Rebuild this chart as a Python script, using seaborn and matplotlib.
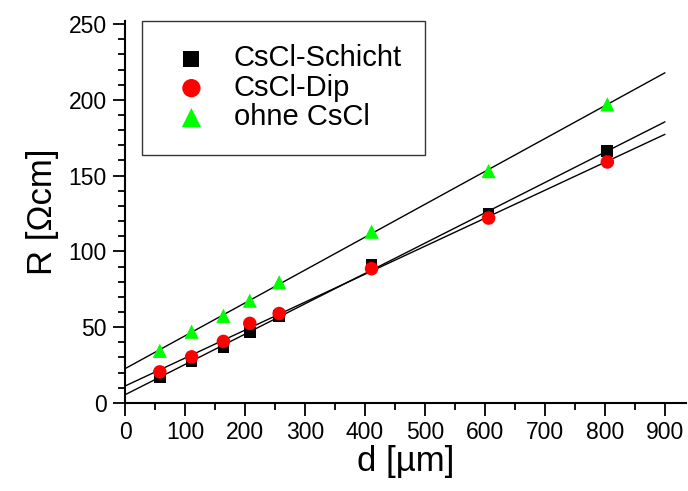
import numpy as np
import pandas as pd
import matplotlib
matplotlib.use("Agg")
import matplotlib.pyplot as plt
from matplotlib.ticker import MultipleLocator
import seaborn as sns

# Data
d_um = [58, 111, 164, 208, 257, 411, 606, 804]
schicht = [16.8, 27.3, 37.0, 46.5, 57.5, 91.3, 124.8, 166.0]
dip = [20.5, 30.4, 40.6, 52.5, 59.0, 88.6, 122.0, 159.0]
ohne = [34.4, 47.0, 57.5, 67.5, 79.6, 113.0, 153.0, 197.0]
series_names = ["CsCl-Schicht", "CsCl-Dip", "ohne CsCl"]
fit_range = [0, 900]

sns.set_style("ticks")
plt.rcParams['font.family'] = ['Liberation Sans', 'DejaVu Sans']
for key in ["text.color", "axes.labelcolor", "xtick.color", "ytick.color"]:
    plt.rcParams[key] = "black"

fig = plt.figure(figsize=(6.88, 4.91), dpi=100)
ax = fig.add_axes([0.1817, 0.1793, 0.8153, 0.7779])

colors = ["black", "#ff0000", "#00ff00"]
markers = ["s", "o", "^"]
sizes = [72, 95, 105]
series = [schicht, dip, ohne]

for name, vals, c, m, s in zip(series_names, series, colors, markers, sizes):
    df = pd.DataFrame({"d": d_um, "R": vals})
    sns.scatterplot(data=df, x="d", y="R", ax=ax, color=c, marker=m, s=s,
                    edgecolor="none", label=name, zorder=3)
    k, b = np.polyfit(d_um, vals, 1)
    xs = np.array(fit_range, dtype=float)
    sns.lineplot(x=xs, y=k * xs + b, ax=ax, color="black", lw=1.0, zorder=2)

ax.set_xlim(0, 935)
ax.set_ylim(0, 252)
ax.set_xticks(np.arange(0, 901, 100))
ax.xaxis.set_minor_locator(MultipleLocator(50))
ax.yaxis.set_major_locator(MultipleLocator(50))
ax.yaxis.set_minor_locator(MultipleLocator(10))
ax.tick_params(which="major", direction="out", length=9, width=1.3,
               labelsize=16.5, pad=4)
ax.tick_params(which="minor", direction="out", length=5, width=1.3)
for sp in ["top", "right"]:
    ax.spines[sp].set_visible(False)
for sp in ["left", "bottom"]:
    ax.spines[sp].set_linewidth(1.5)
    ax.spines[sp].set_color("black")

ax.set_xlabel("d [µm]", fontsize=25, labelpad=1)
ax.set_ylabel("R [Ωcm]", fontsize=25, labelpad=7)

leg = ax.legend(loc="upper left", bbox_to_anchor=(0.03, 1.0), fontsize=21,
                frameon=True, fancybox=False, edgecolor="black",
                handlelength=1.8, handletextpad=0.55, borderpad=0.8,
                labelspacing=0.05, borderaxespad=0.0, markerscale=1.35)
leg.get_frame().set_linewidth(1.0)

fig.savefig("out.png", dpi=100)
